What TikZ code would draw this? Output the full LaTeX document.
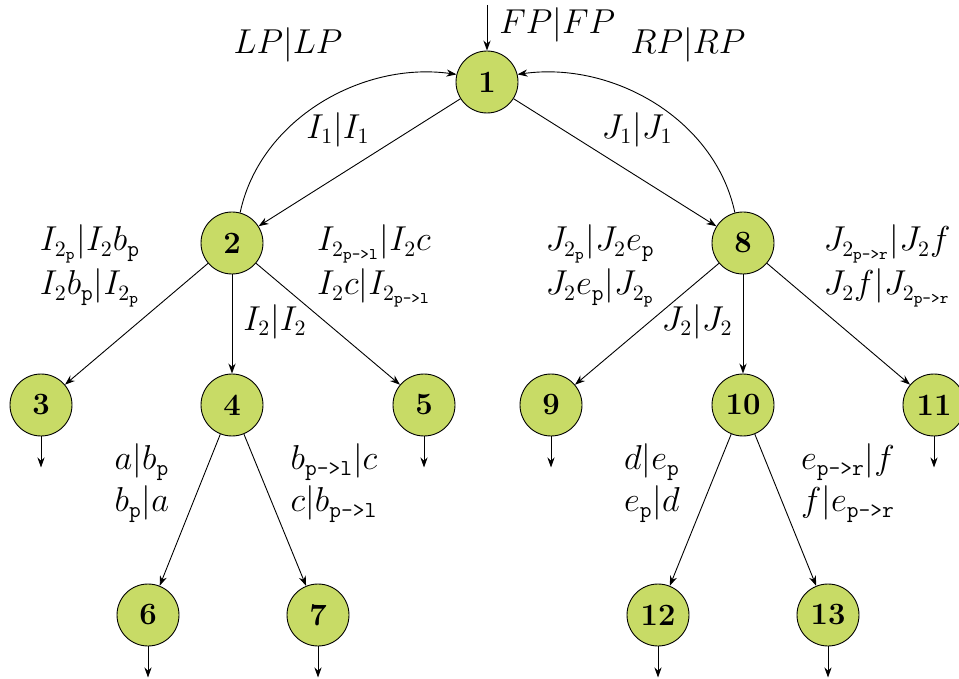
\documentclass[tikz,border=0pt]{standalone}
\usepackage{amsmath}
\usetikzlibrary{arrows.meta}
\definecolor{leaf}{HTML}{C8DB66}
\newcommand{\tp}{\texttt{p}}
\newcommand{\tpl}{\text{\texttt{p->l}}}
\newcommand{\tpr}{\text{\texttt{p->r}}}

\begin{document}
\begin{tikzpicture}[x=0.5pt, y=-0.5pt, font=\fontsize{16.3}{19}\selectfont,
    >={Stealth[length=5pt,width=3.6pt]}, line width=0.45pt]
  \tikzset{
    state/.style={circle, draw, fill=leaf, minimum size=31pt, inner sep=0pt, font=\fontsize{15.5}{18}\selectfont\bfseries},
    lab/.style={align=left, inner sep=1pt},
  }
  \useasboundingbox (0,0) rectangle (959,679);
  % states
  \node[state] (n1)  at (487,82)  {1};
  \node[state] (n2)  at (232,243) {2};
  \node[state] (n8)  at (743,243) {8};
  \node[state] (n3)  at (41,405)  {3};
  \node[state] (n4)  at (232,405) {4};
  \node[state] (n5)  at (424,405) {5};
  \node[state] (n9)  at (551,405) {9};
  \node[state] (n10) at (743,405) {10};
  \node[state] (n11) at (934,405) {11};
  \node[state] (n6)  at (148,615) {6};
  \node[state] (n7)  at (318,615) {7};
  \node[state] (n12) at (658,615) {12};
  \node[state] (n13) at (828,615) {13};

  % transitions
  \coordinate (in1) at (487,5);
  \draw[->] (in1) -- (n1.north);
  \draw[->] (n1) -- (n2);
  \draw[->] (n1) -- (n8);
  \draw[->] (n2) -- (n3);
  \draw[->] (n2) -- (n4);
  \draw[->] (n2) -- (n5);
  \draw[->] (n8) -- (n9);
  \draw[->] (n8) -- (n10);
  \draw[->] (n8) -- (n11);
  \draw[->] (n4) -- (n6);
  \draw[->] (n4) -- (n7);
  \draw[->] (n10) -- (n12);
  \draw[->] (n10) -- (n13);
  \draw[->] (n2.75) to[out=78, in=172, looseness=0.95] (n1.166);
  \draw[->] (n8.105) to[out=102, in=8, looseness=0.95] (n1.14);
  \foreach \n in {3,5,9,11,6,7,12,13} {
    \path (n\n.south) ++(0,31) coordinate (o\n);
    \draw[->] (n\n.south) -- (o\n);
  }

  % labels
  \node[lab, anchor=west] (lfp) at (497,25)  {$FP|FP$};
  \node[lab] (llp) at (288,45)  {$LP|LP$};
  \node[lab] (lrp) at (688,45)  {$RP|RP$};
  \node[lab] (li1) at (338,130) {$I_1|I_1$};
  \node[lab] (lj1) at (637,130) {$J_1|J_1$};
  \node[lab] (l23) at (90,266)  {$I_{2_\tp}|I_2b_\tp$\\[2pt]$I_2b_\tp|I_{2_\tp}$};
  \node[lab] (l25) at (374,266) {$I_{2_{\tpl}}|I_2c$\\[2pt]$I_2c|I_{2_{\tpl}}$};
  \node[lab] (l24) at (275,322) {$I_2|I_2$};
  \node[lab] (l89) at (600,266) {$J_{2_\tp}|J_2e_\tp$\\[2pt]$J_2e_\tp|J_{2_\tp}$};
  \node[lab] (l810) at (697,322) {$J_2|J_2$};
  \node[lab] (l811) at (887,266) {$J_{2_{\tpr}}|J_2f$\\[2pt]$J_2f|J_{2_{\tpr}}$};
  \node[lab] (l46) at (142,483) {$a|b_\tp$\\[2pt]$b_\tp|a$};
  \node[lab] (l47) at (334,483) {$b_{\tpl}|c$\\[2pt]$c|b_{\tpl}$};
  \node[lab] (l1012) at (652,483) {$d|e_\tp$\\[2pt]$e_\tp|d$};
  \node[lab] (l1013) at (848,483) {$e_{\tpr}|f$\\[2pt]$f|e_{\tpr}$};
\end{tikzpicture}
\end{document}
